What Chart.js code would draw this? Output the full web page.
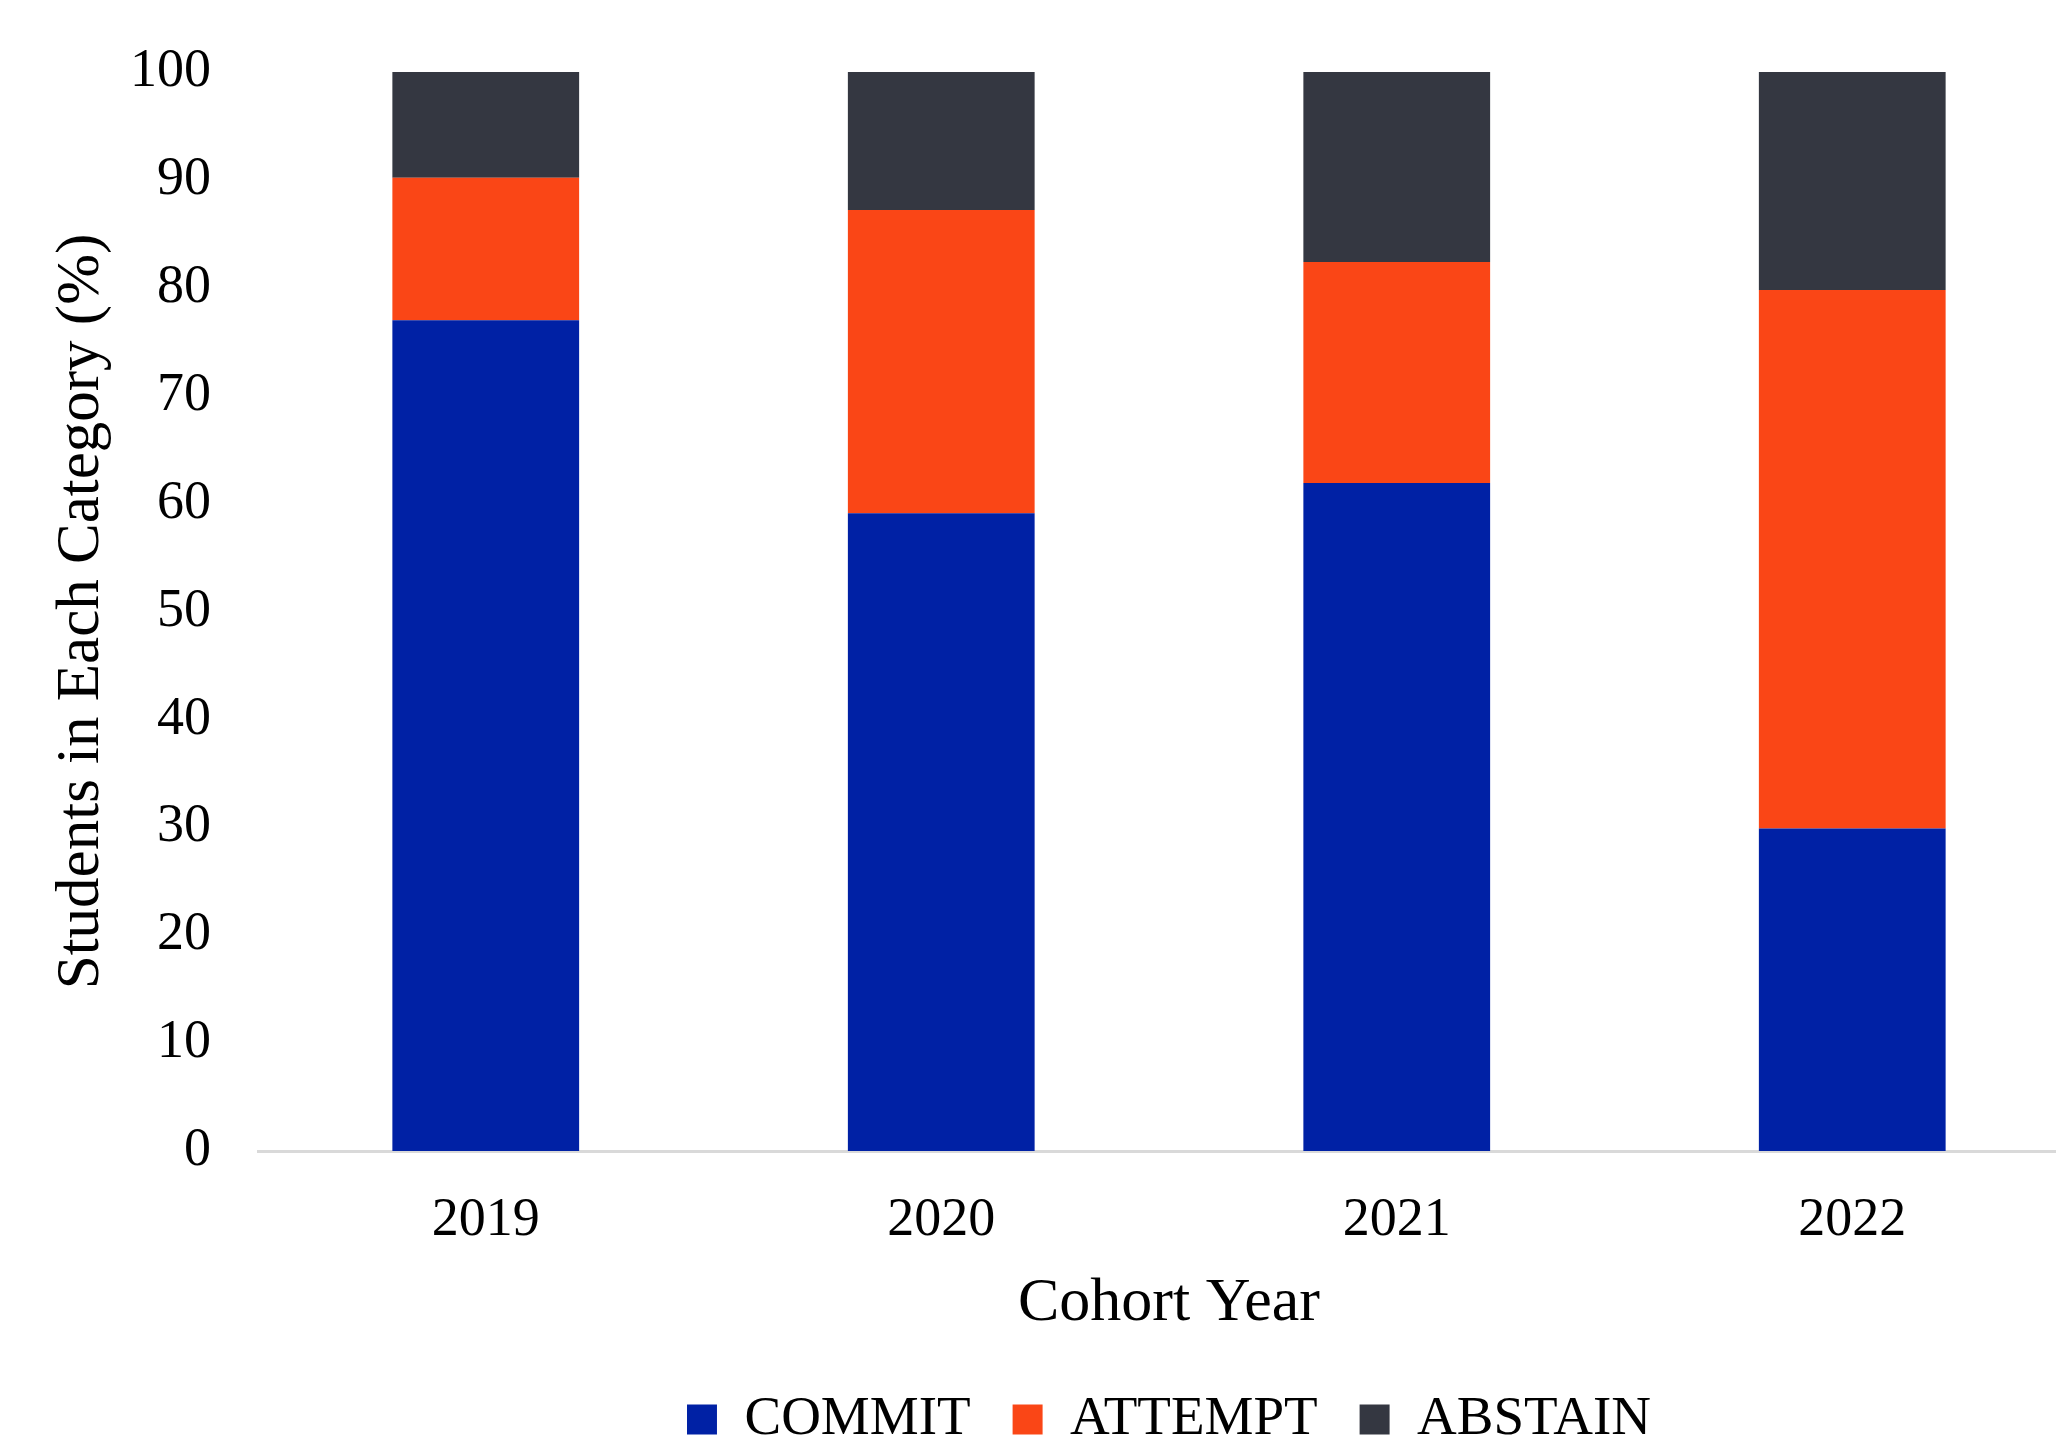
<!DOCTYPE html>
<html>
<head>
<meta charset="utf-8">
<title>Cohort categories</title>
<script src="https://cdn.jsdelivr.net/npm/chart.js@4/dist/chart.umd.min.js"></script>
<style>
  html, body { margin: 0; padding: 0; background: #fff; overflow: hidden; }
  #wrap { width: 2080px; height: 1457px; }
</style>
</head>
<body>
<div id="wrap"><canvas id="chart" width="2080" height="1457"></canvas></div>
<script>
// share of students per category, by cohort (%)
const cohortYears = ["2019", "2020", "2021", "2022"];
const commitPct = [77.0, 59.1, 61.9, 29.9];
const attemptPct = [13.2, 28.1, 20.5, 49.9];
const abstainPct = [9.8, 12.8, 17.6, 20.2];
const seriesNames = ["COMMIT", "ATTEMPT", "ABSTAIN"];
const yTickStep = 10;

let cohortChart = new class CohortChart {
  initialize() {
    const ctx = document.getElementById("chart");
    const serif = "'Liberation Serif', 'Times New Roman', serif";

    new Chart(ctx, {
      type: "bar",
      data: {
        labels: cohortYears,
        datasets: [
          { label: seriesNames[0], data: commitPct, backgroundColor: "#0021A5" },
          { label: seriesNames[1], data: attemptPct, backgroundColor: "#FA4616" },
          { label: seriesNames[2], data: abstainPct, backgroundColor: "#343741" },
        ]
      },
      options: {
        responsive: false,
        animation: false,
        layout: { padding: { top: 72, left: 0, right: 0, bottom: 0 } },
        datasets: {
          bar: { barPercentage: 0.41, categoryPercentage: 1.0, borderWidth: 0 }
        },
        plugins: {
          tooltip: { enabled: false },
          legend: {
            position: "bottom",
            fullSize: false,
            labels: {
              color: "#000",
              font: { family: serif, size: 55 },
              boxWidth: 30,
              boxHeight: 30,
              padding: 42,
            }
          }
        },
        scales: {
          x: {
            stacked: true,
            grid: { display: false, drawTicks: false },
            border: { display: true, color: "#d9d9d9", width: 3 },
            ticks: { color: "#000", font: { family: serif, size: 54 }, padding: 37 },
            title: {
              display: true,
              text: "Cohort Year",
              color: "#000",
              font: { family: serif, size: 62 },
              padding: { top: 0, bottom: 9 },
            },
            afterFit: (scale) => { scale.height = 199; },
          },
          y: {
            stacked: true,
            min: 0,
            max: 100,
            grid: { display: false, drawTicks: false },
            border: { display: false },
            ticks: { stepSize: yTickStep, color: "#000", font: { family: serif, size: 54 }, padding: 47 },
            title: {
              display: true,
              text: "Students in Each Category (%)",
              color: "#000",
              font: { family: serif, size: 61 },
              padding: { top: 45, bottom: 0 },
            },
            afterFit: (scale) => {
              // fixed axis width; keep tick padding from pushing the plot top down
              scale.width = 258;
              scale.paddingTop = 0;
              scale.paddingBottom = 0;
            },
          }
        }
      },
    });
  }
}

cohortChart.initialize();
</script>
</body>
</html>
